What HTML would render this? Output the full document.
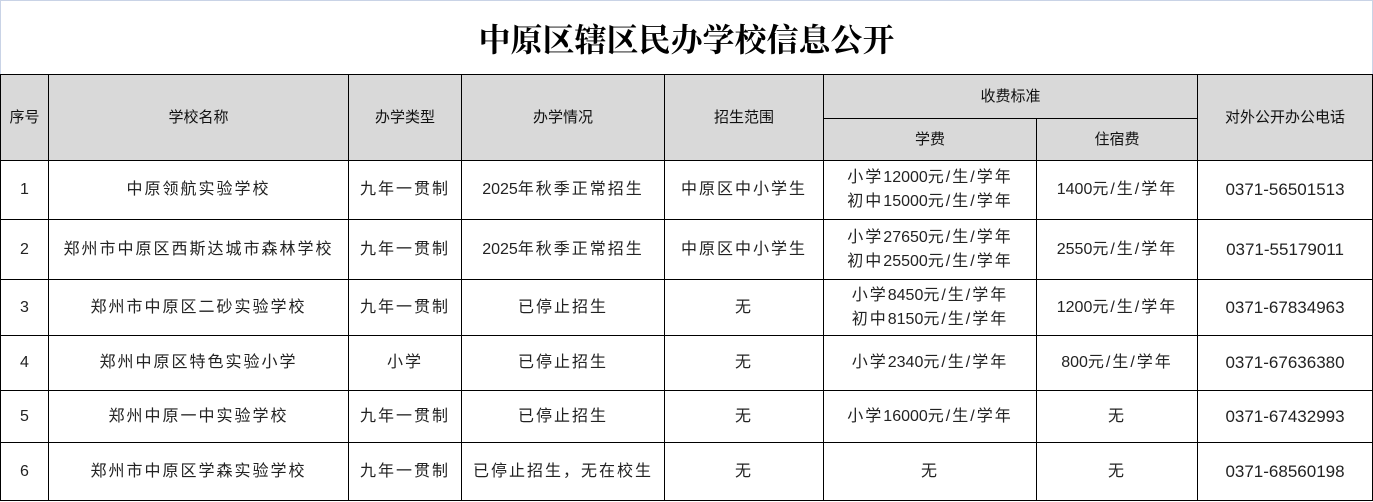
<!DOCTYPE html>
<html><head><meta charset="utf-8"><style>
body{margin:0;width:1373px;height:502px;background:#fff;overflow:hidden;font-family:"Liberation Sans","Noto Sans CJK SC",sans-serif;}
.title{position:absolute;left:0;top:0;width:1371px;height:74px;border:1px solid #c9d3e6;border-bottom:none;text-align:center;line-height:74px;font-family:"Noto Serif CJK SC","Noto Sans CJK SC",serif;font-weight:bold;font-size:32px;color:#000;}
table{position:absolute;left:0;top:74px;border-collapse:collapse;table-layout:fixed;}
td{border:1px solid #000;text-align:center;vertical-align:middle;padding:0;font-size:16px;color:#222;letter-spacing:2px;line-height:24px;}
tr.h td{background:#d9d9d9;font-size:15px;letter-spacing:0;color:#111;}
.n{letter-spacing:0;}
td.p{letter-spacing:0;font-size:17px;}
</style></head><body>
<div class="title">中原区辖区民办学校信息公开</div>
<table>
<colgroup><col style="width:48px"><col style="width:300px"><col style="width:113px"><col style="width:203px"><col style="width:159px"><col style="width:213px"><col style="width:161px"><col style="width:175px"></colgroup>
<tr class="h" style="height:44px"><td rowspan="2">序号</td><td rowspan="2">学校名称</td><td rowspan="2">办学类型</td><td rowspan="2">办学情况</td><td rowspan="2">招生范围</td><td colspan="2">收费标准</td><td rowspan="2">对外公开办公电话</td></tr>
<tr class="h" style="height:42px"><td>学费</td><td>住宿费</td></tr>
<tr style="height:59px"><td class="n">1</td><td>中原领航实验学校</td><td>九年一贯制</td><td><span class="n">2025</span>年秋季正常招生</td><td>中原区中小学生</td><td>小学<span class="n">12000</span>元/生/学年<br>初中<span class="n">15000</span>元/生/学年</td><td><span class="n">1400</span>元/生/学年</td><td class="p">0371-56501513</td></tr>
<tr style="height:60px"><td class="n">2</td><td>郑州市中原区西斯达城市森林学校</td><td>九年一贯制</td><td><span class="n">2025</span>年秋季正常招生</td><td>中原区中小学生</td><td>小学<span class="n">27650</span>元/生/学年<br>初中<span class="n">25500</span>元/生/学年</td><td><span class="n">2550</span>元/生/学年</td><td class="p">0371-55179011</td></tr>
<tr style="height:56px"><td class="n">3</td><td>郑州市中原区二砂实验学校</td><td>九年一贯制</td><td>已停止招生</td><td>无</td><td>小学<span class="n">8450</span>元/生/学年<br>初中<span class="n">8150</span>元/生/学年</td><td><span class="n">1200</span>元/生/学年</td><td class="p">0371-67834963</td></tr>
<tr style="height:55px"><td class="n">4</td><td>郑州中原区特色实验小学</td><td>小学</td><td>已停止招生</td><td>无</td><td>小学<span class="n">2340</span>元/生/学年</td><td><span class="n">800</span>元/生/学年</td><td class="p">0371-67636380</td></tr>
<tr style="height:52px"><td class="n">5</td><td>郑州中原一中实验学校</td><td>九年一贯制</td><td>已停止招生</td><td>无</td><td>小学<span class="n">16000</span>元/生/学年</td><td>无</td><td class="p">0371-67432993</td></tr>
<tr style="height:58px"><td class="n">6</td><td>郑州市中原区学森实验学校</td><td>九年一贯制</td><td>已停止招生，无在校生</td><td>无</td><td>无</td><td>无</td><td class="p">0371-68560198</td></tr>
</table>
</body></html>
